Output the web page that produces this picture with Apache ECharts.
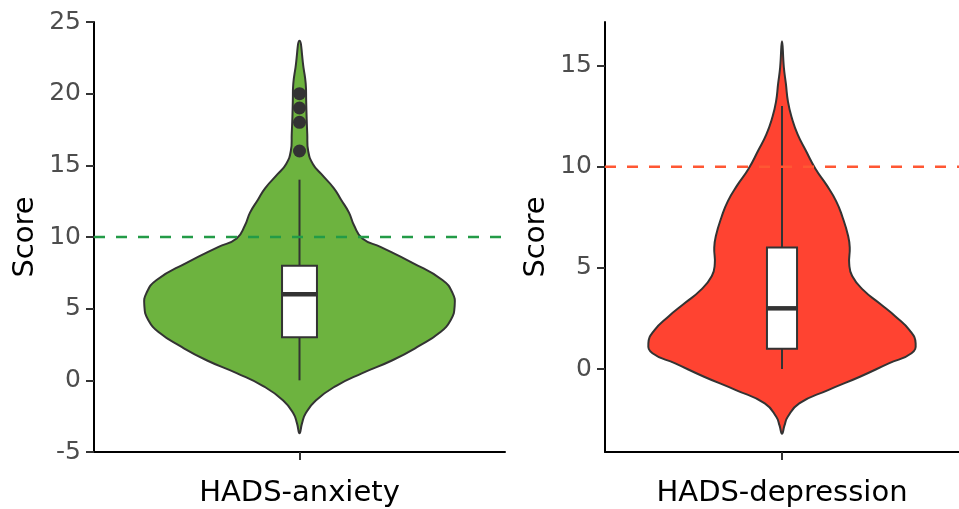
<!DOCTYPE html>
<html><head><meta charset="utf-8">
<script src="https://cdn.jsdelivr.net/npm/echarts@6/dist/echarts.min.js"></script>
<style>html,body{margin:0;padding:0;background:#fff}#c{width:959px;height:509px}</style>
</head><body><div id="c"></div>
<script>
// ---- data ----
const categories = ['HADS-anxiety', 'HADS-depression'];

// violin outlines: score level and relative half-width (density, max = 1)
const anxietyY =       [23.7, 21.8, 20.7, 19.5, 18.3, 17.2, 16.0, 15.1, 14.4, 13.4, 12.6, 11.7, 10.8, 9.9, 9.3, 8.2, 7.0, 6.1, 5.2, 4.2, 3.3, 2.4, 1.4, 0.5, -0.4, -1.4, -2.3, -3.0, -3.7];
const anxietyDensity = [0, 0.026, 0.040, 0.043, 0.046, 0.050, 0.056, 0.086, 0.140, 0.222, 0.268, 0.319, 0.352, 0.405, 0.525, 0.728, 0.921, 0.986, 1.0, 0.974, 0.900, 0.771, 0.599, 0.405, 0.234, 0.105, 0.040, 0.016, 0];

const depressionY =       [16.2, 14.9, 14.1, 13.2, 12.4, 11.6, 10.8, 9.9, 9.1, 8.3, 7.5, 6.6, 6.0, 5.2, 4.6, 3.9, 3.25, 2.6, 1.9, 1.27, 0.78, 0.28, -0.38, -1.04, -1.7, -2.36, -2.8, -3.2];
const depressionDensity = [0, 0.014, 0.029, 0.045, 0.074, 0.117, 0.178, 0.250, 0.333, 0.405, 0.453, 0.494, 0.507, 0.503, 0.525, 0.609, 0.729, 0.849, 0.957, 1.0, 0.969, 0.799, 0.583, 0.345, 0.129, 0.043, 0.018, 0];

// box plots: [lower whisker, Q1, median, Q3, upper whisker]
const anxietyBox = [0, 3, 6, 8, 14];
const depressionBox = [0, 1, 3, 6, 13];
const anxietyOutliers = [16, 18, 19, 20];
const depressionOutliers = [];

// clinical cut-off lines
const cutoffs = [10, 10];

// y-axis ticks
const anxietyTicks = [-5, 0, 5, 10, 15, 20, 25];
const depressionTicks = [0, 5, 10, 15];

// ---- styling ----
const VW = 0.755;   // violin max half-width (value-axis units, axis spans -1..1)
const BW = 0.085;   // box half-width
const FONT = 'DejaVu Sans';
const DARK = '#333333';
const fills = ['#6DB33F', '#FF4331'];
const cutColors = ['#239B47', '#FF5733'];

function violinRender(ys, ds, fill) {
  return function (params, api) {
    const pts = [];
    for (let i = 0; i < ys.length; i++) pts.push(api.coord([ds[i] * VW, ys[i]]));
    for (let i = ys.length - 2; i >= 1; i--) pts.push(api.coord([-ds[i] * VW, ys[i]]));
    return {
      type: 'polygon',
      shape: { points: pts, smooth: 0.5 },
      style: { fill: fill, stroke: DARK, lineWidth: 2 }
    };
  };
}

function boxRender(box) {
  return function (params, api) {
    const [mn, q1, md, q3, mx] = box;
    const c = v => api.coord([0, v]);
    const tl = api.coord([-BW, q3]);
    const br = api.coord([BW, q1]);
    const ml = api.coord([-BW, md]);
    const mr = api.coord([BW, md]);
    const a = c(mx), b = c(q3), d = c(q1), e = c(mn);
    return {
      type: 'group',
      children: [
        { type: 'line', shape: { x1: a[0], y1: a[1], x2: b[0], y2: b[1] }, style: { stroke: DARK, lineWidth: 2 } },
        { type: 'line', shape: { x1: d[0], y1: d[1], x2: e[0], y2: e[1] }, style: { stroke: DARK, lineWidth: 2 } },
        { type: 'rect', shape: { x: tl[0], y: tl[1], width: br[0] - tl[0], height: br[1] - tl[1] }, style: { fill: '#ffffff', stroke: DARK, lineWidth: 2 } },
        { type: 'line', shape: { x1: ml[0], y1: ml[1], x2: mr[0], y2: mr[1] }, style: { stroke: DARK, lineWidth: 4.5 } }
      ]
    };
  };
}

function cutRender(color) {
  return function (params, api) {
    const v = api.value(1);
    const p1 = api.coord([-1, v]);
    const p2 = api.coord([1, v]);
    return {
      type: 'line',
      shape: { x1: p1[0], y1: p1[1], x2: p2[0], y2: p2[1] },
      style: { stroke: color, lineWidth: 2.5, lineDash: [11, 11] }
    };
  };
}

function catAxis(grid, name) {
  return {
    gridIndex: grid, type: 'category', data: [name], boundaryGap: true,
    axisLine: { show: true, onZero: false, lineStyle: { color: '#000', width: 2 } },
    axisTick: { show: true, alignWithLabel: true, length: 8, lineStyle: { color: DARK, width: 2 } },
    axisLabel: { color: '#000', fontFamily: FONT, fontSize: 29, margin: 27 },
    splitLine: { show: false }
  };
}
function valXAxis(grid) {
  return { gridIndex: grid, type: 'value', min: -1, max: 1, show: false };
}
function valYAxis(grid, min, max, ticks) {
  return {
    gridIndex: grid, type: 'value', min: min, max: max,
    name: 'Score', nameLocation: 'middle', nameGap: 54, nameRotate: 90,
    nameTextStyle: { color: '#000', fontFamily: FONT, fontSize: 29 },
    axisLine: { show: true, onZero: false, lineStyle: { color: '#000', width: 2 } },
    axisTick: { show: true, length: 8, lineStyle: { color: DARK, width: 2 }, customValues: ticks },
    axisLabel: { color: '#4D4D4D', fontFamily: FONT, fontSize: 25, margin: 13, customValues: ticks },
    splitLine: { show: false }
  };
}

const chart = echarts.init(document.getElementById('c'), null, { renderer: 'canvas' });
chart.setOption({
  animation: false,
  backgroundColor: '#ffffff',
  grid: [
    { left: 94, top: 22, width: 411, height: 430 },
    { left: 605, top: 22, width: 368, height: 430 }
  ],
  xAxis: [catAxis(0, categories[0]), valXAxis(0), catAxis(1, categories[1]), valXAxis(1)],
  yAxis: [valYAxis(0, -5, 25, anxietyTicks), valYAxis(1, -4.1, 17.15, depressionTicks)],
  series: [
    { type: 'custom', xAxisIndex: 1, yAxisIndex: 0, z: 1, data: [[0, 0]], renderItem: violinRender(anxietyY, anxietyDensity, fills[0]) },
    { type: 'custom', xAxisIndex: 1, yAxisIndex: 0, z: 2, data: [[0, 0]], renderItem: boxRender(anxietyBox) },
    { type: 'scatter', xAxisIndex: 1, yAxisIndex: 0, z: 3, symbol: 'circle', symbolSize: 13,
      itemStyle: { color: DARK, opacity: 1 }, data: anxietyOutliers.map(v => [0, v]) },
    { type: 'custom', xAxisIndex: 1, yAxisIndex: 0, z: 4, data: [[0, cutoffs[0]]], renderItem: cutRender(cutColors[0]) },

    { type: 'custom', xAxisIndex: 3, yAxisIndex: 1, z: 1, data: [[0, 0]], renderItem: violinRender(depressionY, depressionDensity, fills[1]) },
    { type: 'custom', xAxisIndex: 3, yAxisIndex: 1, z: 2, data: [[0, 0]], renderItem: boxRender(depressionBox) },
    { type: 'scatter', xAxisIndex: 3, yAxisIndex: 1, z: 3, symbol: 'circle', symbolSize: 13,
      itemStyle: { color: DARK, opacity: 1 }, data: depressionOutliers.map(v => [0, v]) },
    { type: 'custom', xAxisIndex: 3, yAxisIndex: 1, z: 4, data: [[0, cutoffs[1]]], renderItem: cutRender(cutColors[1]) }
  ]
});
</script>
</body></html>
